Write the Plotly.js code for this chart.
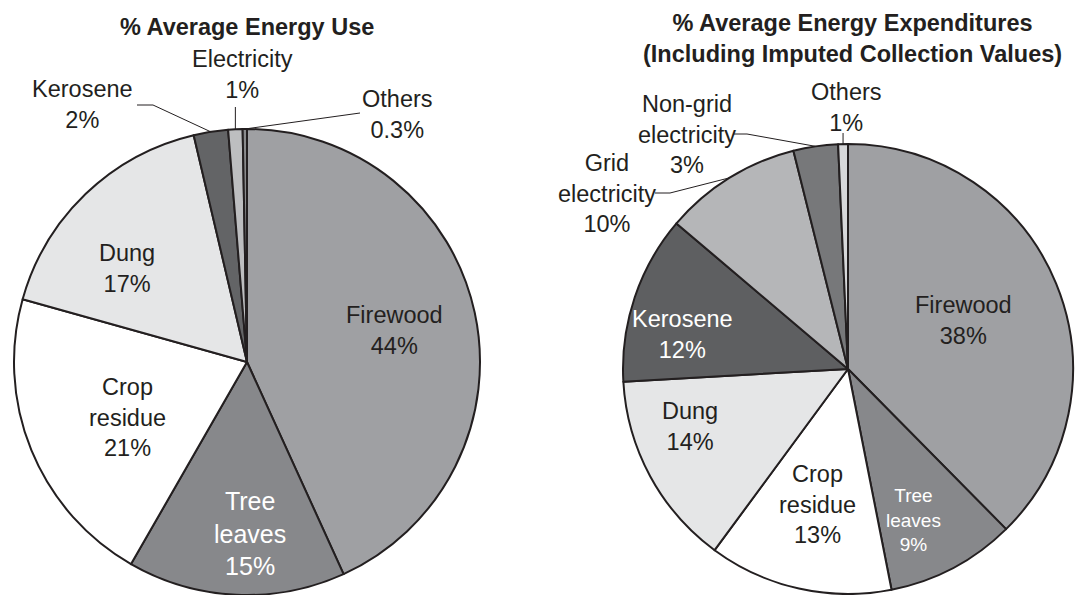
<!DOCTYPE html>
<html>
<head>
<meta charset="utf-8">
<script src="https://cdn.plot.ly/plotly-3.0.1.min.js"></script>
<style>html,body{margin:0;padding:0;background:#fff;}#chart{width:1075px;height:595px;}</style>
</head>
<body>
<div id="chart"></div>
<script>
// ---- Data ----
const useTitle = '% Average Energy Use';
const useLabels = ['Firewood', 'Tree leaves', 'Crop residue', 'Dung', 'Kerosene', 'Electricity', 'Others'];
const useLabelLines = ['Firewood', 'Tree<br>leaves', 'Crop<br>residue', 'Dung', 'Kerosene', 'Electricity', 'Others'];
const useValues = [43.5, 15.2, 21.2, 17.1, 2.4, 1.0, 0.3];

const expTitle = '% Average Energy Expenditures<br>(Including Imputed Collection Values)';
const expLabels = ['Firewood', 'Tree leaves', 'Crop residue', 'Dung', 'Kerosene', 'Grid electricity', 'Non-grid electricity', 'Others'];
const expLabelLines = ['Firewood', 'Tree<br>leaves', 'Crop<br>residue', 'Dung', 'Kerosene', 'Grid<br>electricity', 'Non-grid<br>electricity', 'Others'];
const expValues = [37.6, 9.3, 13.2, 14.0, 12.1, 9.9, 3.2, 0.7];

// ---- Styles / layout ----
const W = 1075, H = 595;
const INK = '#231f20';
const FONT = 'Liberation Sans, Arial, sans-serif';
const useColors = ['#9fa0a3', '#87888b', '#ffffff', '#e5e6e7', '#636466', '#bdbec0', '#8a8b8d'];
const expColors = ['#9fa0a3', '#87888b', '#ffffff', '#e5e6e7', '#5e5f61', '#b5b6b8', '#77787a', '#d7d8da'];
const useTextColors = [INK, '#ffffff', INK, INK, INK, INK, INK];
const expTextColors = [INK, '#ffffff', INK, INK, '#ffffff', INK, INK, INK];
const useTextSizes = [23.5, 25, 23.5, 23.5, 23.5, 23.5, 23.5];
const expTextSizes = [23.5, 19, 23.5, 23.5, 23.5, 23.5, 23.5, 23.5];
// label centres in pixels
const useLabelPos = [[394, 330], [250, 533], [127, 418], [127, 268], [83, 104], [242, 74], [397, 115]];
const expLabelPos = [[963, 320], [913, 520], [817, 504], [690, 426], [682, 334], [607, 194], [687, 134], [846, 107]];

const useCenter = [247, 362], useR = 233;
const expCenter = [848, 369], expR = 225;

function fx(x) { return x / W; }
function fy(y) { return 1 - y / H; }
function fmt(v) { return (v < 0.5 ? v.toFixed(1) : Math.round(v).toString()) + '%'; }

function midPoint(values, i, center, r) {
  const total = values.reduce((a, b) => a + b, 0);
  let cum = 0;
  for (let k = 0; k < i; k++) cum += values[k];
  const frac = (cum + values[i] / 2) / total;
  const ang = frac * 2 * Math.PI;
  return [center[0] + r * Math.sin(ang), center[1] - r * Math.cos(ang)];
}

function pieTrace(labels, values, colors, center, r) {
  return {
    type: 'pie',
    labels: labels,
    values: values,
    sort: false,
    direction: 'clockwise',
    rotation: 0,
    textinfo: 'none',
    hoverinfo: 'label+percent',
    showlegend: false,
    marker: { colors: colors, line: { color: INK, width: 2 } },
    domain: {
      x: [fx(center[0] - r), fx(center[0] + r)],
      y: [fy(center[1] + r), fy(center[1] - r)]
    }
  };
}

const annotations = [];
function addLabels(lines, values, pos, colors, sizes) {
  for (let i = 0; i < lines.length; i++) {
    annotations.push({
      xref: 'paper', yref: 'paper',
      x: fx(pos[i][0]), y: fy(pos[i][1]),
      xanchor: 'center', yanchor: 'middle',
      text: lines[i] + '<br>' + fmt(values[i]),
      showarrow: false,
      font: { family: FONT, size: sizes[i], color: colors[i] }
    });
  }
}
addLabels(useLabelLines, useValues, useLabelPos, useTextColors, useTextSizes);
addLabels(expLabelLines, expValues, expLabelPos, expTextColors, expTextSizes);

annotations.push({
  xref: 'paper', yref: 'paper', x: fx(247), y: fy(27), xanchor: 'center', yanchor: 'middle',
  text: '<b>' + useTitle + '</b>', showarrow: false,
  font: { family: FONT, size: 23.5, color: INK }
});
annotations.push({
  xref: 'paper', yref: 'paper', x: fx(852), y: fy(39), xanchor: 'center', yanchor: 'middle',
  text: '<b>' + expTitle.replace('<br>', '</b><br><b>') + '</b>', showarrow: false,
  font: { family: FONT, size: 23.5, color: INK }
});

// leader lines
const shapes = [];
function polyline(pts) {
  for (let k = 0; k < pts.length - 1; k++) {
    shapes.push({
      type: 'line', xref: 'paper', yref: 'paper',
      x0: fx(pts[k][0]), y0: fy(pts[k][1]), x1: fx(pts[k + 1][0]), y1: fy(pts[k + 1][1]),
      line: { color: INK, width: 1 }
    });
  }
}
// left pie: Kerosene, Electricity, Others
let p = midPoint(useValues, 4, useCenter, useR);
polyline([[137, 105], [153, 105], p]);
p = midPoint(useValues, 5, useCenter, useR);
polyline([[p[0], 107], p]);
p = midPoint(useValues, 6, useCenter, useR);
polyline([[360, 113], p]);
// right pie: Grid, Non-grid, Others
p = midPoint(expValues, 5, expCenter, expR);
polyline([[655, 193], [670, 193], p]);
p = midPoint(expValues, 6, expCenter, expR);
polyline([[733, 134], [747, 134], p]);
p = midPoint(expValues, 7, expCenter, expR);
polyline([[p[0], 133], p]);

const data = [
  pieTrace(useLabels, useValues, useColors, useCenter, useR),
  pieTrace(expLabels, expValues, expColors, expCenter, expR)
];

const layout = {
  width: W, height: H,
  margin: { l: 0, r: 0, t: 0, b: 0 },
  paper_bgcolor: '#ffffff',
  plot_bgcolor: '#ffffff',
  showlegend: false,
  annotations: annotations,
  shapes: shapes,
  font: { family: FONT, color: INK }
};

Plotly.newPlot('chart', data, layout, { displayModeBar: false, staticPlot: true });
</script>
</body>
</html>
